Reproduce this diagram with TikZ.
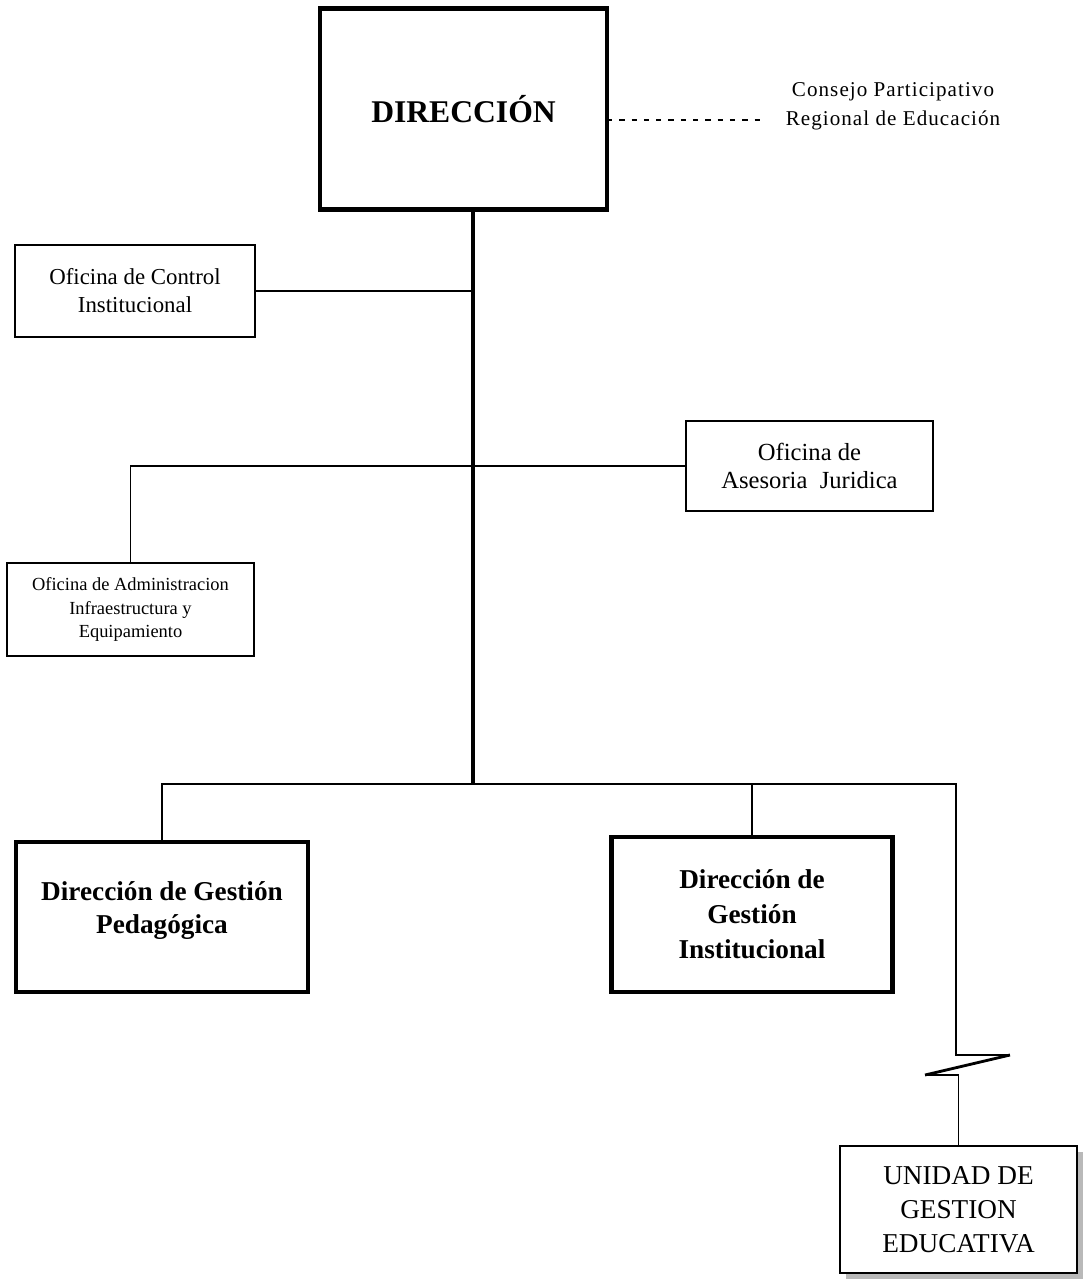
\documentclass[tikz,border=0pt]{standalone}
\usepackage{fontspec}
\setmainfont{Liberation Serif}
\usetikzlibrary{shadows}
\begin{document}
\begin{tikzpicture}[x=0.02cm, y=-0.02cm, line join=miter,
    caja/.style={draw, thin, align=center, inner sep=0pt, outer sep=0pt, line width=0.8pt},
    cajagruesa/.style={caja, line width=2.4pt, font=\bfseries},
    enlace/.style={line width=0.9pt},
    tronco/.style={line width=2.6pt}]
  % marco de la figura
  \useasboundingbox (0,0) rectangle (1083,1285);

  % Cajas principales
  \node[cajagruesa, minimum width=5.74cm, minimum height=4.02cm, font=\bfseries\fontsize{18}{22}\selectfont] (dir) at (463.5,109) {DIRECCIÓN};
  \node[align=center, font=\fontsize{12}{16.5}\selectfont\addfontfeature{LetterSpace=5}] (cons) at (893,106) {Consejo Participativo\\Regional de Educación};

  % Oficinas de apoyo y asesoria
  \node[caja, minimum width=4.8cm, minimum height=1.84cm, font=\fontsize{13}{16}\selectfont] (ctrl) at (135,291) {Oficina de Control\\Institucional};
  \node[caja, minimum width=4.94cm, minimum height=1.8cm, font=\fontsize{14}{16}\selectfont] (ases) at (809.5,466) {Oficina de\\Asesoria\ \ Juridica};
  \node[caja, minimum width=4.94cm, minimum height=1.86cm, font=\fontsize{10.5}{13.5}\selectfont] (admin) at (130.5,609.5) {Oficina de Administracion\\Infraestructura y\\Equipamiento};

  % Organos de linea
  \node[cajagruesa, minimum width=5.84cm, minimum height=3.0cm, font=\bfseries\fontsize{15.5}{19}\selectfont] (ped) at (162,917) {Dirección de Gestión\\Pedagógica\\[-8pt]\mbox{}};
  \node[cajagruesa, minimum width=5.62cm, minimum height=3.1cm, font=\bfseries\fontsize{15.5}{20}\selectfont] (inst) at (752,914.5) {Dirección de\\Gestión\\Institucional};
  \node[caja, minimum width=4.74cm, minimum height=2.54cm, fill=white, font=\fontsize{15.5}{19.5}\selectfont,
        drop shadow={shadow xshift=0.12cm, shadow yshift=-0.12cm, fill=gray!55, opacity=1}] (uge) at (958.5,1209.5) {UNIDAD DE\\GESTION\\EDUCATIVA};

  % Puntos auxiliares
  \coordinate (finDash) at (765,120);
  \coordinate (finTronco) at (473,784);
  \coordinate (busDer) at (956,784);
  \coordinate (zz1) at (956,1055);
  \coordinate (zz2) at (1010,1055);
  \coordinate (zz3) at (925,1075);
  \coordinate (zz4) at (958.5,1075);

  % Linea de coordinacion
  \draw[dashed, line width=0.7pt, dash pattern=on 3pt off 4pt] (dir.east |- finDash) -- (finDash);

  % Tronco y ramales
  \draw[tronco] (dir.south -| finTronco) -- (finTronco);
  \draw[enlace] (ctrl.east) -- (ctrl.east -| finTronco);
  \draw[enlace] (admin.north) |- (ases.west);
  \draw[enlace] (ped.north) |- (busDer) -- (zz1) -- (zz2);
  \draw[enlace] (inst.north) -- (inst.north |- busDer);
  \draw[enlace, line width=1.6pt] (zz2) -- (zz3);
  \draw[enlace] (zz3) -- (zz4) -- (uge.north);
\end{tikzpicture}
\end{document}
